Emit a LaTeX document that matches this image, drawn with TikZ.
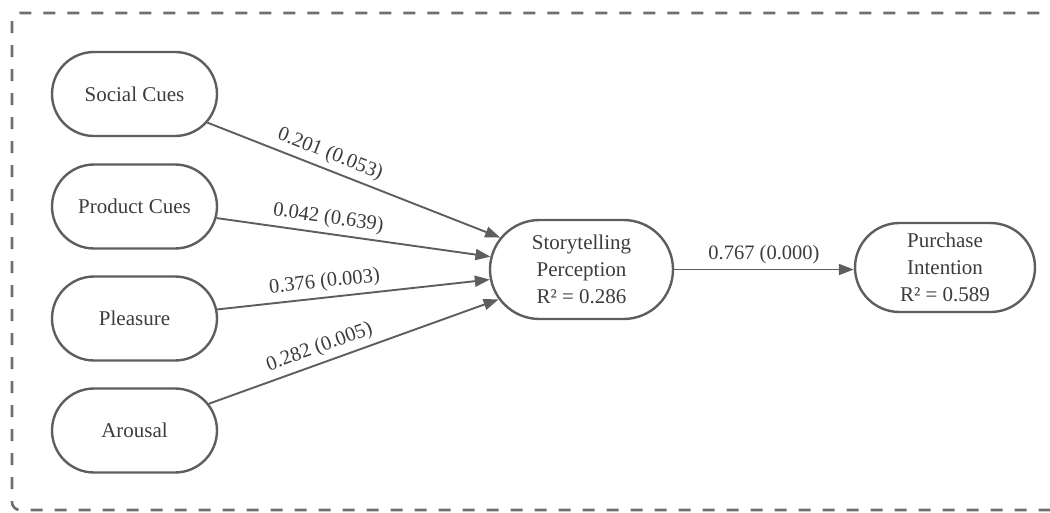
\documentclass[tikz,border=0pt]{standalone}
\usepackage{fontspec}
\setmainfont{Liberation Serif}
\usetikzlibrary{shapes.misc,arrows.meta}
\definecolor{linegray}{HTML}{5E5E5E}
\definecolor{txtgray}{HTML}{3C3C3C}
\definecolor{framegray}{HTML}{6E6E6E}
\tikzset{
  construct/.style={rounded rectangle, draw=linegray, line width=2.4pt, fill=white,
    inner sep=0pt, align=center, text=txtgray, font=\fontsize{21}{27}\selectfont},
  path/.style={draw=linegray, line width=1.9pt, -{Triangle[length=15pt,width=11pt]}},
  coef/.style={sloped, above=3pt, pos=0.4, inner sep=2pt, text=txtgray, font=\fontsize{20.5}{24}\selectfont},
}
\begin{document}
\begin{tikzpicture}[x=1pt,y=-1pt]
\useasboundingbox (0,0) rectangle (1050,512);
\clip (0,0) rectangle (1050,512);
\draw[framegray, line width=2.6pt, dash pattern=on 12pt off 12pt, rounded corners=8pt]
  (12,13) rectangle (1070,510);
\node[construct, minimum width=165pt, minimum height=84pt] (sc) at (134.5,94) {Social Cues};
\node[construct, minimum width=165pt, minimum height=84pt] (pc) at (134.5,206.5) {Product Cues};
\node[construct, minimum width=165pt, minimum height=84pt] (pl) at (134.5,318.5) {Pleasure};
\node[construct, minimum width=165pt, minimum height=84pt] (ar) at (134.5,430.5) {Arousal};
\node[construct, minimum width=183pt, minimum height=99pt] (st) at (581.5,269.5) {Storytelling\\Perception\\R² = 0.286};
\node[construct, minimum width=180pt, minimum height=89pt] (pi) at (945,267.5) {Purchase\\Intention\\R² = 0.589};
\draw[path] (sc) -- node[coef] {0.201 (0.053)} (st);
\draw[path] (pc) -- node[coef] {0.042 (0.639)} (st);
\draw[path] (pl) -- node[coef] {0.376 (0.003)} (st);
\draw[path] (ar) -- node[coef] {0.282 (0.005)} (st);
\draw[path] (st.east) -- node[coef, pos=0.5] {0.767 (0.000)} (st.east -| pi.west);
\end{tikzpicture}
\end{document}
